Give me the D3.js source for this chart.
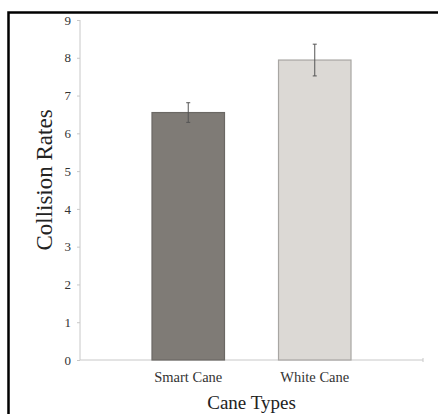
<!DOCTYPE html>
<html>
<head>
<meta charset="utf-8">
<script src="https://cdn.jsdelivr.net/npm/d3@7"></script>
<style>
html,body{margin:0;padding:0;background:#fff;overflow:hidden;width:438px;height:414px;}
svg{display:block;overflow:hidden;font-family:"Liberation Serif","Times New Roman",serif;}
</style>
</head>
<body>
<svg id="chart" width="438" height="414"></svg>
<script>
const categories = ["Smart Cane", "White Cane"];
const means = [6.55, 7.94];
const errors = [0.26, 0.42];
const yTicks = [0,1,2,3,4,5,6,7,8,9];
const fills = ["#7f7b76", "#dcd9d5"];
const strokes = ["#6b6864", "#a8a6a3"];
const serif = "'Liberation Serif', 'Times New Roman', serif";

const svg = d3.select("#chart");
svg.append("rect").attr("x",0).attr("y",0).attr("width",438).attr("height",414).attr("fill","#fff");

// outer frame (right/bottom edges fall outside the picture)
svg.append("path").attr("d","M8.5,420V12.5H450")
  .attr("fill","none").attr("stroke","#000").attr("stroke-width",2.5);

const x = d3.scaleBand().domain(categories).range([80,423]).paddingInner(0.427).paddingOuter(0.569);
const y = d3.scaleLinear().domain([0,9]).range([360,20]);

// y axis
const yAxis = svg.append("g").attr("transform","translate(80,0)")
  .call(d3.axisLeft(y).tickValues(yTicks).tickSize(3).tickPadding(6).tickFormat(d3.format("d")));
yAxis.attr("font-family", null).attr("font-size", null);
yAxis.select(".domain").attr("stroke","#c8c8c8").attr("d","M0,"+y(9)+"V"+y(0));
yAxis.selectAll(".tick line").attr("stroke","#c8c8c8");
yAxis.selectAll(".tick text").attr("fill","#333").style("font-family", serif).style("font-size","13px");

// x axis
const xAxis = svg.append("g").attr("transform","translate(0,360)")
  .call(d3.axisBottom(x).tickSize(0).tickPadding(12));
xAxis.attr("font-family", null).attr("font-size", null);
xAxis.select(".domain").attr("stroke","#c8c8c8").attr("d","M80,0H423M423,-2V2");
xAxis.selectAll(".tick text").attr("fill","#333").style("font-family", serif).style("font-size","14.5px");

// bars
svg.selectAll("rect.bar").data(categories).enter().append("rect").attr("class","bar")
  .attr("x", d => x(d)).attr("width", x.bandwidth())
  .attr("y", (d,i) => y(means[i])).attr("height", (d,i) => y(0) - y(means[i]))
  .attr("fill", (d,i) => fills[i]).attr("stroke", (d,i) => strokes[i]).attr("stroke-width",1.2);

// error bars
const eb = svg.selectAll("g.err").data(categories).enter().append("g").attr("class","err")
  .attr("stroke","#555").attr("stroke-width",1);
eb.append("line").attr("x1", d => x(d)+x.bandwidth()/2).attr("x2", d => x(d)+x.bandwidth()/2)
  .attr("y1",(d,i)=>y(means[i]+errors[i])).attr("y2",(d,i)=>y(means[i]-errors[i]));
eb.append("line").attr("x1", d => x(d)+x.bandwidth()/2-2).attr("x2", d => x(d)+x.bandwidth()/2+2)
  .attr("y1",(d,i)=>y(means[i]+errors[i])).attr("y2",(d,i)=>y(means[i]+errors[i]));
eb.append("line").attr("x1", d => x(d)+x.bandwidth()/2-2).attr("x2", d => x(d)+x.bandwidth()/2+2)
  .attr("y1",(d,i)=>y(means[i]-errors[i])).attr("y2",(d,i)=>y(means[i]-errors[i]));

// axis titles
svg.append("text").attr("x",251.5).attr("y",409).attr("text-anchor","middle")
  .attr("fill","#222").style("font-family", serif).style("font-size","19px").text("Cane Types");
svg.append("text").attr("transform","translate(52,180) rotate(-90)").attr("text-anchor","middle")
  .attr("fill","#222").style("font-family", serif).style("font-size","23px").text("Collision Rates");
</script>
</body>
</html>
